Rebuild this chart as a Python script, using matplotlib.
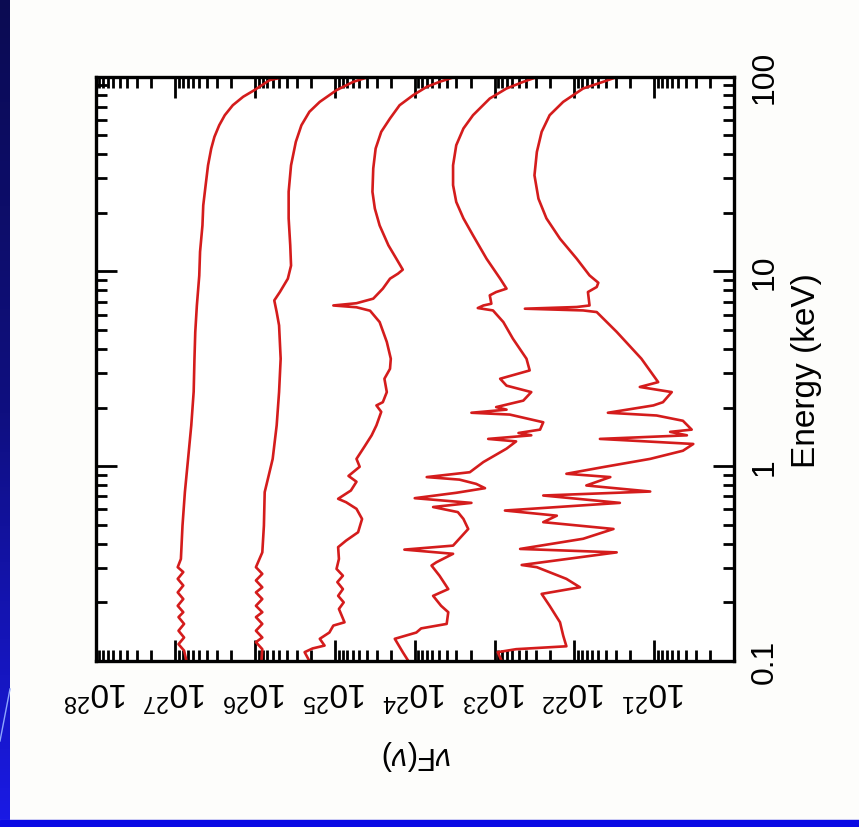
import numpy as np
import matplotlib
matplotlib.use('Agg')
import matplotlib.pyplot as plt
from matplotlib import ticker
from matplotlib.colors import LinearSegmentedColormap
from matplotlib.patches import Rectangle
from matplotlib.lines import Line2D

plt.rcParams['font.family'] = ['Liberation Sans', 'DejaVu Sans']
plt.rcParams['mathtext.fontset'] = 'custom'
plt.rcParams['mathtext.rm'] = 'Liberation Sans'
plt.rcParams['mathtext.it'] = 'Liberation Sans:italic'
plt.rcParams['mathtext.bf'] = 'Liberation Sans:bold'

# model spectra, top to bottom: energy in keV, log10 of nuF(nu)
e1 = [100, 95.7, 85.1, 78.7, 71.2, 63.3, 56.2, 49.0, 42.7, 35.0,
      27.7, 21.8, 17.2, 12.6, 9.5, 6.68, 4.88, 3.56, 2.41, 1.62,
      1.09, 0.736, 0.495, 0.334, 0.303, 0.286, 0.264, 0.244, 0.225, 0.208,
      0.192, 0.178, 0.168, 0.155, 0.143, 0.132, 0.122, 0.113, 0.1]
f1 = [25.61, 25.82, 26.01, 26.15, 26.28, 26.38, 26.45, 26.51, 26.55, 26.59,
      26.62, 26.65, 26.66, 26.69, 26.70, 26.73, 26.75, 26.76, 26.77, 26.80,
      26.84, 26.88, 26.91, 26.93, 26.97, 26.90, 26.97, 26.90, 26.97, 26.90,
      26.97, 26.90, 26.96, 26.89, 26.96, 26.89, 26.96, 26.89, 26.86]

e2 = [100, 93.9, 85.1, 74.1, 65.9, 56.2, 46.2, 35.0, 25.6, 18.7,
      13.6, 10.7, 9.17, 7.83, 7.09, 6.18, 5.28, 3.56, 2.40, 1.62,
      1.09, 0.895, 0.736, 0.495, 0.361, 0.303, 0.280, 0.259, 0.239, 0.225,
      0.208, 0.192, 0.178, 0.168, 0.155, 0.143, 0.132, 0.125, 0.115, 0.1]
f2 = [24.56, 24.77, 24.98, 25.19, 25.32, 25.42, 25.49, 25.55, 25.58, 25.58,
      25.56, 25.55, 25.59, 25.69, 25.76, 25.73, 25.70, 25.68, 25.70, 25.73,
      25.78, 25.83, 25.88, 25.89, 25.91, 25.99, 25.91, 25.99, 25.91, 25.99,
      25.91, 25.99, 25.91, 25.99, 25.91, 25.99, 25.91, 25.99, 25.91, 25.92]

e3 = [100, 93.9, 88.5, 80.2, 71.2, 60.9, 52.0, 42.7, 33.7, 25.6,
      21.0, 17.2, 13.6, 11.6, 10.2, 9.73, 9.17, 8.15, 7.24, 6.86,
      6.68, 6.54, 6.28, 5.49, 4.34, 3.56, 3.16, 2.81, 2.40, 2.13,
      2.05, 1.90, 1.62, 1.44, 1.26, 1.09, 0.993, 0.891, 0.832, 0.750,
      0.680, 0.653, 0.604, 0.536, 0.458, 0.415, 0.384, 0.334, 0.297, 0.274,
      0.254, 0.234, 0.216, 0.200, 0.185, 0.158, 0.152, 0.140, 0.130, 0.120,
      0.116, 0.111, 0.1]
f3 = [23.48, 23.69, 23.85, 24.02, 24.19, 24.31, 24.42, 24.49, 24.52, 24.53,
      24.50, 24.44, 24.33, 24.23, 24.15, 24.21, 24.31, 24.40, 24.52, 24.73,
      25.02, 24.73, 24.56, 24.44, 24.35, 24.30, 24.31, 24.38, 24.35, 24.40,
      24.48, 24.42, 24.48, 24.54, 24.63, 24.73, 24.69, 24.83, 24.73, 24.80,
      24.96, 24.86, 24.73, 24.66, 24.71, 24.86, 24.96, 24.95, 24.98, 24.90,
      24.97, 24.90, 24.96, 24.89, 24.95, 24.88, 25.02, 25.07, 25.19, 25.13,
      25.28, 25.38, 25.32]

e4 = [100, 93.9, 86.8, 77.1, 63.3, 54.1, 44.4, 35.0, 27.7, 22.7,
      18.7, 15.3, 11.6, 9.17, 8.15, 7.83, 7.53, 6.82, 6.68, 6.48,
      6.30, 5.49, 4.51, 3.56, 3.10, 2.81, 2.59, 2.40, 2.17, 2.01,
      1.95, 1.88, 1.84, 1.68, 1.54, 1.48, 1.44, 1.38, 1.34, 1.23,
      1.05, 0.931, 0.879, 0.853, 0.811, 0.771, 0.730, 0.685, 0.648, 0.617,
      0.581, 0.536, 0.476, 0.391, 0.373, 0.355, 0.321, 0.309, 0.274, 0.234,
      0.216, 0.192, 0.178, 0.155, 0.147, 0.140, 0.130, 0.111, 0.1]
f4 = [22.45, 22.64, 22.85, 23.06, 23.27, 23.39, 23.48, 23.52, 23.52, 23.48,
      23.39, 23.27, 23.10, 22.93, 22.85, 22.98, 23.06, 23.04, 23.14, 23.21,
      23.02, 22.89, 22.77, 22.60, 22.56, 22.93, 22.85, 22.54, 22.64, 22.98,
      22.85, 23.29, 22.81, 22.39, 22.43, 22.70, 22.54, 23.08, 22.73, 22.85,
      23.14, 23.31, 23.85, 23.44, 23.23, 23.12, 23.48, 24.00, 23.29, 23.77,
      23.46, 23.39, 23.33, 23.52, 24.13, 23.52, 23.73, 23.79, 23.69, 23.58,
      23.77, 23.67, 23.58, 23.60, 23.92, 23.98, 24.25, 24.15, 24.08]

e5 = [100, 93.9, 86.8, 74.1, 63.3, 52.0, 41.0, 31.1, 23.6, 18.7,
      14.7, 11.6, 9.53, 8.74, 8.31, 7.83, 6.68, 6.56, 6.43, 6.30,
      6.18, 4.89, 3.56, 2.70, 2.55, 2.40, 2.13, 2.05, 1.88, 1.82,
      1.71, 1.54, 1.50, 1.44, 1.38, 1.30, 1.20, 1.09, 0.989, 0.914,
      0.879, 0.796, 0.741, 0.707, 0.648, 0.592, 0.557, 0.516, 0.476, 0.424,
      0.376, 0.361, 0.311, 0.303, 0.264, 0.239, 0.221, 0.192, 0.158, 0.135,
      0.119, 0.115, 0.111, 0.1]
f5 = [21.45, 21.64, 21.89, 22.14, 22.31, 22.41, 22.47, 22.50, 22.45, 22.35,
      22.18, 21.97, 21.81, 21.70, 21.72, 21.83, 21.81, 21.97, 22.62, 21.89,
      21.72, 21.47, 21.16, 20.95, 21.18, 20.78, 20.89, 21.01, 21.58, 20.97,
      20.64, 20.53, 20.80, 20.59, 21.68, 20.51, 20.64, 21.05, 21.64, 22.10,
      21.55, 21.85, 21.05, 22.39, 21.43, 22.87, 22.22, 22.39, 21.51, 21.89,
      22.68, 21.47, 22.66, 22.47, 22.10, 21.93, 22.41, 22.31, 22.18, 22.14,
      22.10, 22.73, 22.96, 22.91]

spectra = [(e1, f1), (e2, f2), (e3, f3), (e4, f4), (e5, f5)]
flux_decades = list(range(21, 29))

W, H = 859, 828
fig = plt.figure(figsize=(W / 100, H / 100), dpi=100, facecolor='#fdfdfb')

# slide frame: dark strip down the left side, blue bar along the bottom
strip = fig.add_axes([0, 0, 10 / W, 1])
cmap = LinearSegmentedColormap.from_list('frame', ['#0b0b52', '#0f0f80', '#1a1ae6'])
strip.imshow(np.linspace(0, 1, 256).reshape(-1, 1), aspect='auto', cmap=cmap,
             extent=[0, 1, 0, 1], origin='upper')
strip.axis('off')
fig.patches.append(Rectangle((0, 0), 1, 7 / H, transform=fig.transFigure,
                             color='#0a0ae4', zorder=5))
fig.lines.append(Line2D([0, 1], [7.5 / H, 7.5 / H], transform=fig.transFigure,
                        color='#c9c9dc', lw=0.8))
fig.lines.append(Line2D([10 / W, 0], [1 - 690 / H, 1 - 742 / H],
                        transform=fig.transFigure, color='#8ea6ff', lw=1.0))

# plot is laid on its side: flux runs right-to-left, energy bottom-to-top
ax = fig.add_axes([95.5 / W, 1 - 662 / H, 638.5 / W, 584.5 / H])
for e, f in spectra:
    ax.plot(10 ** np.array(f), e, color='#d41c1c', lw=1.9)

ax.set_xscale('log')
ax.set_yscale('log')
ax.set_xlim(1e28, 1e20)
ax.set_ylim(0.1, 100)

ax.xaxis.set_major_locator(ticker.FixedLocator([10.0 ** k for k in flux_decades]))
ax.xaxis.set_major_formatter(ticker.FuncFormatter(
    lambda v, p: r'$10^{%d}$' % round(np.log10(v))))
ax.xaxis.set_minor_locator(ticker.LogLocator(base=10, subs=np.arange(2, 10), numticks=100))
ax.xaxis.set_minor_formatter(ticker.NullFormatter())
ax.yaxis.set_major_locator(ticker.LogLocator(base=10, numticks=10))
ax.yaxis.set_major_formatter(ticker.FuncFormatter(lambda v, p: '%g' % v))
ax.yaxis.set_minor_locator(ticker.LogLocator(base=10, subs=np.arange(2, 10), numticks=100))
ax.yaxis.set_minor_formatter(ticker.NullFormatter())

ax.tick_params(which='both', direction='in', top=True, bottom=True, left=True,
               right=True, labelleft=False, labelright=True, width=2, color='black')
ax.tick_params(which='major', length=15)
ax.tick_params(which='minor', length=8)
ax.tick_params(axis='x', labelrotation=180, labelsize=24, pad=9)
ax.tick_params(axis='y', labelrotation=90, labelsize=23, pad=11)
plt.setp(ax.yaxis.get_majorticklabels(), va='center')
for s in ax.spines.values():
    s.set_linewidth(2.4)

fig.text(807 / W, 1 - 371 / H, 'Energy (keV)', rotation=90, fontsize=24,
         ha='center', va='center')
fig.text(417 / W, 1 - 755 / H, r'$\nu\mathrm{F}(\nu)$', rotation=180,
         fontsize=22, ha='center', va='center')

fig.savefig('out.png', dpi=100, facecolor=fig.get_facecolor())
